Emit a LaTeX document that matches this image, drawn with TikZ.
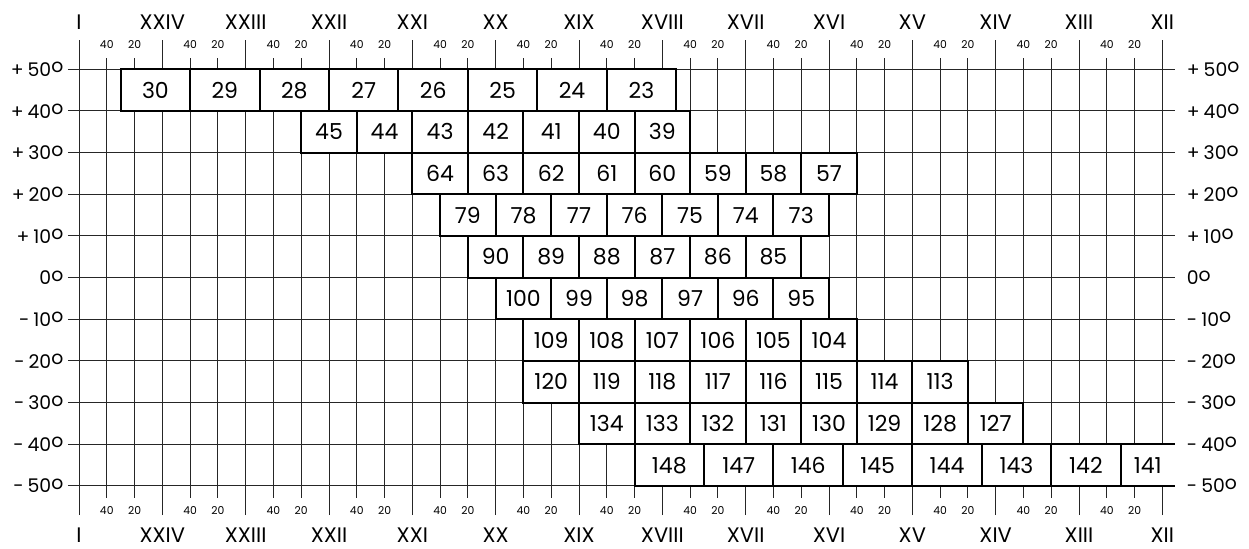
\documentclass[tikz,border=0pt]{standalone}
\usepackage{fontspec}
\setmainfont{Poppins}
\usetikzlibrary{positioning}
\newcommand{\dgr}{\raisebox{0.19em}{o}}

\begin{document}
\begin{tikzpicture}[x=13.889pt, y=2.0833pt, every node/.style={inner sep=0pt}]
\tikzset{fld/.style={draw, line width=1pt, fill=white, anchor=north west, outer sep=0pt, minimum height=20.833pt, font=\fontsize{11}{12}\selectfont}}
\tikzset{grd/.style={line width=0.5pt, black!85}}
\tikzset{hour/.style={font=\fontsize{10.5}{12}\selectfont}}
\tikzset{mins/.style={font=\fontsize{5.4}{6}\selectfont}}
\tikzset{decl/.style={font=\fontsize{9.4}{10}\selectfont}}
\useasboundingbox (-2.844,-65.11) rectangle (42.12,66.64);
% grid
\foreach \y in {-50,-40,...,50} \draw[grd] (-0.4,\y) -- (39.45,\y);
\foreach \h in {0,...,13} \draw[grd] ({3*\h},-57) -- ({3*\h},57);
\foreach \h in {0,...,12} \foreach \m in {1,2} \draw[grd] ({3*\h+\m},-52.8) -- ({3*\h+\m},52.8);
% fields
\foreach \ytop/\xl/\bw/\nums in {
  50/1.5/2.5/{30,29,28,27,26,25,24,23},
  40/8/2/{45,44,43,42,41,40,39},
  30/12/2/{64,63,62,61,60,59,58,57},
  20/13/2/{79,78,77,76,75,74,73},
  10/14/2/{90,89,88,87,86,85},
  0/15/2/{100,99,98,97,96,95},
  -10/16/2/{109,108,107,106,105,104},
  -20/16/2/{120,119,118,117,116,115,114,113},
  -30/18/2/{134,133,132,131,130,129,128,127},
  -40/20/2.5/{148,147,146,145,144,143,142}}
  \foreach \n [count=\i from 0] in \nums
    \node[fld, minimum width=\bw*13.889pt] (f\n) at ({\xl+\i*\bw},\ytop) {\n};
\node[fld, draw=none, minimum width=1.95*13.889pt] (f141) at (37.5,-40) {141};
\draw[line width=1pt] (f141.north east) -- (f141.north west) -- (f141.south west) -- (f141.south east);
% hours and minutes
\foreach \r [count=\i from 0] in {I,XXIV,XXIII,XXII,XXI,XX,XIX,XVIII,XVII,XVI,XV,XIV,XIII,XII} {
  \node[hour] (ht\i) at ({3*\i},61.4) {\r};
  \node[hour] (hb\i) at ({3*\i},-61.9) {\r};
}
\foreach \h in {0,...,12} {
  \node[mins] (mta\h) at ({3*\h+1},56.05) {40};  \node[mins] (mtb\h) at ({3*\h+2},56.05) {20};
  \node[mins] (mba\h) at ({3*\h+1},-56) {40};    \node[mins] (mbb\h) at ({3*\h+2},-56) {20};
}
% declinations
\foreach \d/\t [count=\i] in {50/+\hspace{2pt}50,40/+\hspace{2pt}40,30/+\hspace{2pt}30,20/+\hspace{2pt}20,10/+\hspace{2pt}10,0/0,-10/-\hspace{2pt}10,-20/-\hspace{2pt}20,-30/-\hspace{2pt}30,-40/-\hspace{2pt}40,-50/-\hspace{2pt}50} {
  \node[decl, anchor=east] (dl\i) at (-0.55,\d) {\t\dgr};
  \node[decl, anchor=west] (dr\i) at (39.87,\d) {\t\dgr};
}
\end{tikzpicture}
\end{document}
